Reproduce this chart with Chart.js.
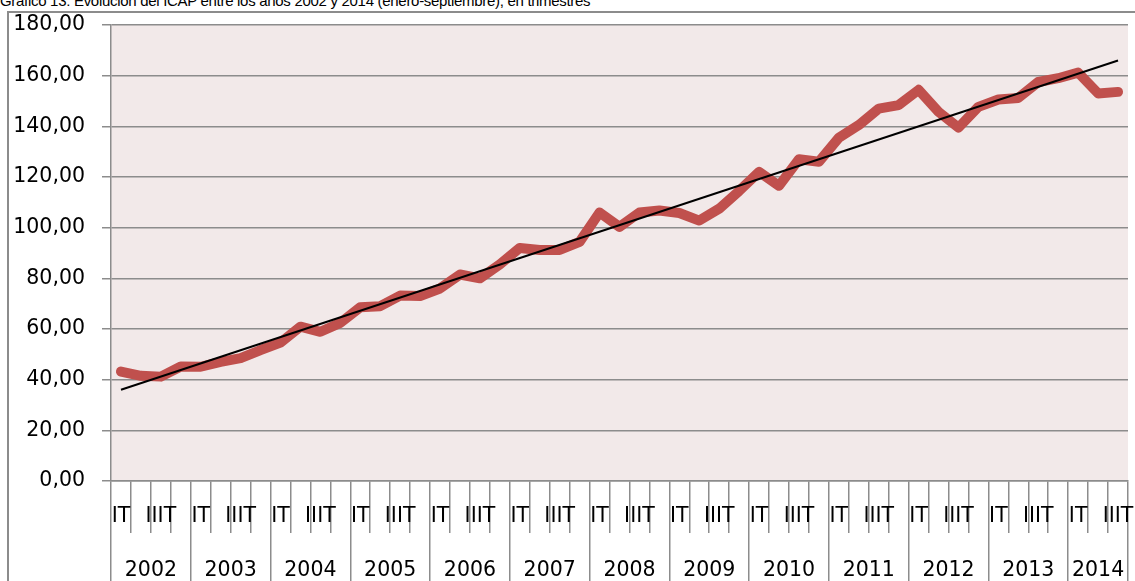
<!DOCTYPE html>
<html lang="es">
<head>
    <meta charset="UTF-8">
    <title>Evolución del ICAP</title>
    <script src="https://cdn.jsdelivr.net/npm/chart.js"></script>
    <style>
        html, body {
            margin: 0;
            padding: 0;
            background: #fff;
            overflow: hidden;
        }
        #titulo {
            position: absolute;
            left: 0;
            top: -8px;
            font-family: "Liberation Sans", sans-serif;
            font-size: 15px;
            letter-spacing: -0.3px;
            color: #000;
            white-space: nowrap;
        }
        #marco {
            position: absolute;
            left: 7px;
            top: 11px;
            width: 1200px;
            height: 700px;
            border-left: 2px solid #8c8c8c;
            border-top: 2px solid #8c8c8c;
        }
        #wrap {
            position: absolute;
            left: 0;
            top: 0;
            width: 1135px;
            height: 581px;
        }
    </style>
</head>
<body>

<div id="titulo">Gráfico 13: Evolución del ICAP entre los años 2002 y 2014 (enero-septiembre), en trimestres</div>
<div id="marco"></div>
<div id="wrap"><canvas id="grafico"></canvas></div>

<script>
    // datos (ICAP por trimestre)
    const years = ['2002', '2003', '2004', '2005', '2006', '2007', '2008', '2009', '2010', '2011', '2012', '2013', '2014'];
    const quartersPerYear = [4, 4, 4, 4, 4, 4, 4, 4, 4, 4, 4, 4, 3];
    const quarterNames = ['IT', 'IIT', 'IIIT', 'IVT'];
    const icap = [
        43.2, 41.5, 41.2, 45.2,
        45.1, 47.0, 48.5, 51.7,
        54.6, 60.9, 58.9, 62.4,
        68.6, 69.0, 73.2, 73.0,
        76.0, 81.5, 80.0, 85.5,
        92.0, 91.2, 91.2, 94.4,
        106.0, 100.3, 106.0, 106.8,
        105.8, 102.8, 107.5, 114.5,
        122.0, 116.5, 127.0, 126.0,
        135.5, 140.5, 147.0, 148.4,
        154.4, 145.7, 139.5, 147.7,
        150.6, 151.2, 157.5, 159.0,
        161.2, 153.0, 153.6
    ];
    // línea de tendencia (extremos)
    const trendStart = 36;
    const trendEnd = 166;
    const yTicks = { min: 0, max: 180, step: 20 };

    const quarterLabels = [];
    quartersPerYear.forEach(n => {
        for (let q = 0; q < n; q++) quarterLabels.push(quarterNames[q]);
    });

    const trend = icap.map((v, i) => i === 0 ? trendStart : (i === icap.length - 1 ? trendEnd : null));

    // límites y centros de cada año (en índices de trimestre)
    const yearBounds = [-0.5];
    const yearCenters = {};
    let acc = -0.5;
    quartersPerYear.forEach((n, k) => {
        yearCenters[acc + n / 2] = years[k];
        acc += n;
        yearBounds.push(acc);
    });

    const gris = '#8c8c8c';
    const fuente = { family: 'DejaVu Sans', size: 20.5 };

    const fondo = {
        id: 'fondo',
        beforeDraw(chart) {
            const a = chart.chartArea;
            const ctx = chart.ctx;
            ctx.save();
            ctx.fillStyle = '#f2e9e9';
            ctx.fillRect(a.left, a.top, a.right - a.left, a.bottom - a.top);
            ctx.restore();
        }
    };

    new Chart(document.getElementById('grafico'), {
        type: 'line',
        data: {
            labels: quarterLabels,
            datasets: [
                {
                    label: 'Tendencia',
                    data: trend,
                    borderColor: '#000',
                    borderWidth: 2,
                    pointRadius: 0,
                    spanGaps: true,
                    order: 0
                },
                {
                    label: 'ICAP',
                    data: icap,
                    borderColor: '#c0504d',
                    borderWidth: 10,
                    pointRadius: 0,
                    tension: 0,
                    borderJoinStyle: 'round',
                    borderCapStyle: 'round',
                    order: 1
                }
            ]
        },
        options: {
            responsive: true,
            maintainAspectRatio: false,
            animation: false,
            layout: { padding: { left: 8, right: 7, top: 25, bottom: 0 } },
            plugins: {
                legend: { display: false },
                tooltip: { enabled: false }
            },
            scales: {
                x: {
                    type: 'category',
                    offset: true,
                    grid: {
                        offset: true,
                        drawOnChartArea: false,
                        tickLength: 52,
                        color: gris,
                        lineWidth: 1.5
                    },
                    border: { display: true, color: gris, width: 1.5 },
                    ticks: {
                        autoSkip: false,
                        maxRotation: 0,
                        padding: -29,
                        color: '#000',
                        font: fuente,
                        callback: (v, i) => i % 2 === 0 ? quarterLabels[i] : ''
                    },
                    afterFit: s => { s.height = 52; }
                },
                years: {
                    type: 'linear',
                    position: 'bottom',
                    min: -0.5,
                    max: quarterLabels.length - 0.5,
                    grid: {
                        drawOnChartArea: false,
                        tickLength: 60,
                        color: c => (c.tick && yearCenters[c.tick.value]) ? 'rgba(0,0,0,0)' : gris,
                        lineWidth: 1.5
                    },
                    border: { display: false },
                    ticks: {
                        autoSkip: false,
                        maxRotation: 0,
                        padding: -35,
                        color: '#000',
                        font: fuente,
                        callback: v => yearCenters[v] || ''
                    },
                    afterBuildTicks: s => {
                        const vals = yearBounds.concat(Object.keys(yearCenters).map(Number));
                        s.ticks = vals.sort((a, b) => a - b).map(v => ({ value: v }));
                    },
                    afterFit: s => { s.height = 48; }
                },
                y: {
                    min: yTicks.min,
                    max: yTicks.max,
                    grid: {
                        color: gris,
                        lineWidth: 1.5,
                        tickLength: 9
                    },
                    border: { display: true, color: gris, width: 1.5 },
                    ticks: {
                        stepSize: yTicks.step,
                        padding: 17,
                        color: '#000',
                        font: fuente,
                        callback: v => v.toFixed(2).replace('.', ',')
                    },
                    afterFit: s => {
                        s.width = 103;
                        s.paddingTop = 0;
                        s.paddingBottom = 0;
                    }
                }
            }
        },
        plugins: [fondo]
    });
</script>

</body>
</html>
